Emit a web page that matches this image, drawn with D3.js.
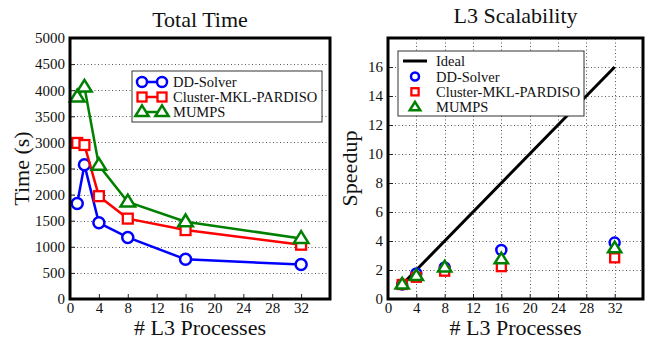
<!DOCTYPE html>
<html>
<head>
<meta charset="utf-8">
<script src="https://cdn.jsdelivr.net/npm/d3@7"></script>
<style>
  body { margin: 0; background: #fff; }
</style>
</head>
<body>
<div id="main"></div>
<script>
// process counts
const procs = [1, 2, 4, 8, 16, 32];
const speedProcs = [2, 4, 8, 16, 32];

// total time (s)
const ddTime = [1830, 2570, 1460, 1180, 760, 660];
const pardisoTime = [2990, 2950, 1970, 1540, 1320, 1040];
const mumpsTime = [3870, 4060, 2560, 1860, 1480, 1160];

// speedup
const idealSpeed = [1, 16];
const idealProcs = [2, 32];
const ddSpeed = [1.0, 1.76, 2.18, 3.38, 3.89];
const pardisoSpeed = [1.0, 1.5, 1.92, 2.23, 2.84];
const mumpsSpeed = [1.0, 1.59, 2.18, 2.74, 3.5];

const xTicks = [0, 4, 8, 12, 16, 20, 24, 28, 32];
const timeTicks = [0, 500, 1000, 1500, 2000, 2500, 3000, 3500, 4000, 4500, 5000];
const speedTicks = [0, 2, 4, 6, 8, 10, 12, 14, 16];

const seriesNames = ['DD-Solver', 'Cluster-MKL-PARDISO', 'MUMPS'];
const seriesColors = ['#0000ff', '#ff0000', '#008000'];
const seriesShapes = ['circle', 'square', 'triangle'];

const FONT = '"Liberation Serif", "Times New Roman", Times, serif';
const width = 652, height = 341;

let svg = d3.select('#main')
    .append('svg')
        .attr('width', width)
        .attr('height', height)
        .attr('font-family', FONT);

// plain text helper
function label(g, x, y, str, size, anchor) {
    return g.append('text').attr('x', x).attr('y', y)
        .attr('font-family', FONT).attr('font-size', size)
        .attr('text-anchor', anchor || 'start').attr('fill', '#111').text(str);
}

// draws a hollow marker centred at (x, y)
function marker(g, shape, x, y, color, size) {
    if (shape === 'circle') {
        g.append('circle').attr('cx', x).attr('cy', y).attr('r', size * 0.5)
            .attr('fill', '#fff').attr('stroke', color).attr('stroke-width', 2.5);
    } else if (shape === 'square') {
        g.append('rect').attr('x', x - size * 0.45).attr('y', y - size * 0.45)
            .attr('width', size * 0.9).attr('height', size * 0.9)
            .attr('fill', '#fff').attr('stroke', color).attr('stroke-width', 2.3);
    } else {
        const s = size * 0.66;
        g.append('path')
            .attr('d', `M${x},${y - s} L${x + s},${y + s * 0.62} L${x - s},${y + s * 0.62} Z`)
            .attr('fill', '#fff').attr('stroke', color).attr('stroke-width', 2.5);
    }
}

function frame(g, x, y, opts) {
    const [x0, x1] = x.range();
    const [y0, y1] = y.range();

    // dotted grid
    const grid = g.append('g').attr('stroke', '#555').attr('stroke-width', 1)
        .attr('stroke-dasharray', '1,2.5');
    opts.yGrid.forEach(v => {
        grid.append('line').attr('x1', x0).attr('x2', x1)
            .attr('y1', Math.round(y(v)) + 0.5).attr('y2', Math.round(y(v)) + 0.5);
    });
    opts.xGrid.forEach(v => {
        grid.append('line').attr('y1', y0).attr('y2', y1)
            .attr('x1', Math.round(x(v)) + 0.5).attr('x2', Math.round(x(v)) + 0.5);
    });

    // axes with inward ticks
    g.append('g').attr('transform', `translate(0,${y0})`)
        .call(d3.axisBottom(x).tickValues(xTicks).tickFormat(d3.format('d'))
            .tickSizeInner(-5).tickSizeOuter(0).tickPadding(3))
        .attr('font-family', FONT)
        .call(a => a.select('.domain').remove())
        .call(a => a.selectAll('line').attr('stroke', '#222'))
        .call(a => a.selectAll('text').attr('font-size', 15).attr('fill', '#111'));
    g.append('g').attr('transform', `translate(${x0},0)`)
        .call(d3.axisLeft(y).tickValues(opts.yTicks).tickFormat(d3.format('d'))
            .tickSizeInner(-5).tickSizeOuter(0).tickPadding(5))
        .attr('font-family', FONT)
        .call(a => a.select('.domain').remove())
        .call(a => a.selectAll('line').attr('stroke', '#222'))
        .call(a => a.selectAll('text').attr('font-size', 15).attr('fill', '#111'));

    // titles
    label(g, (x0 + x1) / 2, opts.titleY, opts.title, 22, 'middle');
    label(g, (x0 + x1) / 2, 335, '# L3 Processes', 22, 'middle');
    label(g, 0, 0, opts.yLabel, 22, 'middle')
        .attr('transform', `translate(${opts.yLabelX},${(y0 + y1) / 2}) rotate(-90)`);
}

function border(g, x, y) {
    const [x0, x1] = x.range();
    const [y0, y1] = y.range();
    g.append('rect').attr('x', x0).attr('y', y1)
        .attr('width', x1 - x0).attr('height', y0 - y1)
        .attr('fill', 'none').attr('stroke', '#000').attr('stroke-width', 3);
}

// ---------- left: total time ----------
const xL = d3.scaleLinear().domain([0, 36]).range([70, 330]);
const yL = d3.scaleLinear().domain([0, 5000]).range([299, 38]);
const left = svg.append('g');
frame(left, xL, yL, {
    yGrid: timeTicks.slice(1, -1), xGrid: [], yTicks: timeTicks,
    title: 'Total Time', titleY: 27, yLabel: 'Time (s)', yLabelX: 29
});

const timeSeries = [ddTime, pardisoTime, mumpsTime];
const line = d3.line().x((d, i) => xL(procs[i])).y(d => yL(d));
timeSeries.forEach((vals, k) => {
    left.append('path').datum(vals).attr('d', line)
        .attr('fill', 'none').attr('stroke', seriesColors[k]).attr('stroke-width', 2.5);
    vals.forEach((v, i) => marker(left, seriesShapes[k], xL(procs[i]), yL(v), seriesColors[k], 11));
});

// legend left
const legL = left.append('g');
legL.append('rect').attr('x', 132).attr('y', 71).attr('width', 190).attr('height', 51)
    .attr('fill', '#fff').attr('stroke', '#333').attr('stroke-width', 1);
seriesNames.forEach((name, k) => {
    const ly = 82 + k * 15;
    legL.append('line').attr('x1', 142).attr('x2', 162).attr('y1', ly).attr('y2', ly)
        .attr('stroke', seriesColors[k]).attr('stroke-width', 2.5);
    marker(legL, seriesShapes[k], 142, ly, seriesColors[k], 10);
    marker(legL, seriesShapes[k], 162, ly, seriesColors[k], 10);
    label(legL, 173, ly + 5, name, 14.5);
});
border(left, xL, yL);

// ---------- right: scalability ----------
const xR = d3.scaleLinear().domain([0, 36]).range([388, 643]);
const yR = d3.scaleLinear().domain([0, 18]).range([299, 38]);
const right = svg.append('g');
frame(right, xR, yR, {
    yGrid: speedTicks.slice(1), xGrid: xTicks.slice(1), yTicks: speedTicks,
    title: 'L3 Scalability', titleY: 23, yLabel: 'Speedup', yLabelX: 357
});

right.append('path').datum(idealSpeed)
    .attr('d', d3.line().x((d, i) => xR(idealProcs[i])).y(d => yR(d)))
    .attr('stroke', '#000').attr('stroke-width', 3).attr('fill', 'none');

const speedSeries = [ddSpeed, pardisoSpeed, mumpsSpeed];
speedSeries.forEach((vals, k) => {
    vals.forEach((v, i) => marker(right, seriesShapes[k], xR(speedProcs[i]), yR(v), seriesColors[k], 10));
});

// legend right
const legR = right.append('g');
legR.append('rect').attr('x', 398).attr('y', 51).attr('width', 186).attr('height', 65)
    .attr('fill', '#fff').attr('stroke', '#333').attr('stroke-width', 1);
legR.append('line').attr('x1', 403).attr('x2', 427).attr('y1', 61).attr('y2', 61)
    .attr('stroke', '#000').attr('stroke-width', 3);
label(legR, 436, 66, 'Ideal', 14.5);
seriesNames.forEach((name, k) => {
    const ly = 76.5 + k * 15.3;
    marker(legR, seriesShapes[k], 415, ly, seriesColors[k], 8);
    label(legR, 436, ly + 5, name, 14.5);
});
border(right, xR, yR);
</script>
</body>
</html>
